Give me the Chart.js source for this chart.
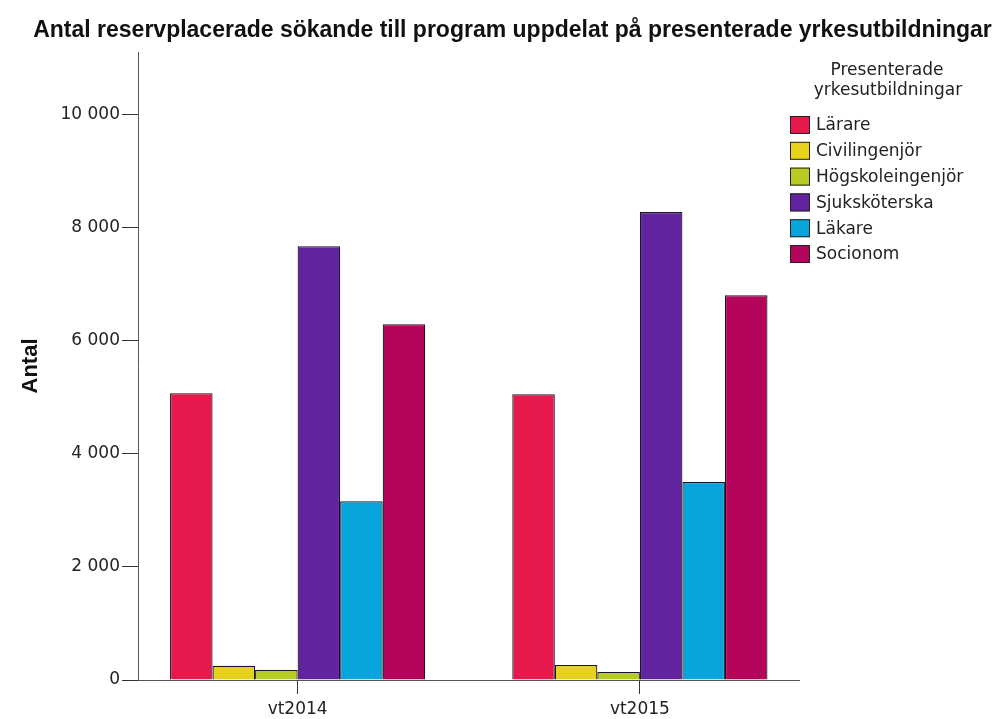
<!DOCTYPE html>
<html>
<head>
<meta charset="utf-8">
<script src="https://cdn.jsdelivr.net/npm/chart.js@4.4.1/dist/chart.umd.min.js"></script>
<style>
  html, body { margin: 0; padding: 0; background: #fff; }
  #wrap { width: 1001px; height: 719px; }
</style>
</head>
<body>
<div id="wrap"><canvas id="myChart" width="1001" height="719"></canvas></div>
<script>
// Data
const categories = ['vt2014', 'vt2015'];
const seriesNames = ['Lärare', 'Civilingenjör', 'Högskoleingenjör', 'Sjuksköterska', 'Läkare', 'Socionom'];
const larare = [5070, 5050];
const civilingenjor = [250, 265];
const hogskoleingenjor = [175, 140];
const sjukskoterska = [7665, 8270];
const lakare = [3160, 3500];
const socionom = [6290, 6800];
const yTicks = [0, 2000, 4000, 6000, 8000, 10000];

const seriesValues = [larare, civilingenjor, hogskoleingenjor, sjukskoterska, lakare, socionom];
const seriesColors = ['#e5194b', '#e6d21c', '#b6cc22', '#61249e', '#08a4dc', '#b4055b'];

const fmt = v => String(v).replace(/\B(?=(\d{3})+(?!\d))/g, ' ');

// legend drawn from the datasets, placed like the original
const sideLegend = {
    id: 'sideLegend',
    afterDraw(chart) {
        const ctx = chart.ctx;
        ctx.save();
        ctx.fillStyle = '#222';
        ctx.font = '17px "DejaVu Sans"';
        ctx.textAlign = 'center';
        ctx.textBaseline = 'middle';
        ctx.fillText('Presenterade', 887, 71);
        ctx.fillText('yrkesutbildningar', 888, 91);
        ctx.textAlign = 'left';
        chart.data.datasets.forEach((ds, i) => {
            const y = 125 + i * 25.8;
            ctx.fillStyle = ds.backgroundColor;
            ctx.fillRect(790, y - 9, 20, 18);
            ctx.strokeStyle = '#222';
            ctx.lineWidth = 1;
            ctx.strokeRect(790.5, y - 8.5, 19, 17);
            ctx.fillStyle = '#222';
            ctx.fillText(ds.label, 816, y + 1);
        });
        ctx.restore();
    }
};

const data = {
    datasets: seriesNames.map((name, i) => ({
        label: name,
        data: seriesValues[i].map((v, j) => ({ x: j, y: v })),
        backgroundColor: seriesColors[i],
        borderColor: '#1c1424',
        borderWidth: 1.2,
        barPercentage: 1,
        categoryPercentage: 0.7456
    }))
};

const config = {
    type: 'bar',
    data: data,
    options: {
        responsive: false,
        animation: false,
        layout: { padding: { left: 24, right: 0, top: 0, bottom: 0 } },
        plugins: {
            legend: { display: false },
            tooltip: { enabled: false },
            title: {
                display: true,
                text: 'Antal reservplacerade sökande till program uppdelat på presenterade yrkesutbildningar',
                color: '#111',
                font: { family: "'Liberation Sans', sans-serif", size: 23, weight: 'bold', lineHeight: 1.0 },
                padding: { top: 19, bottom: 10 }
            }
        },
        scales: {
            x: {
                type: 'linear',
                offset: false,
                min: -0.4664,
                max: 1.4649,
                afterBuildTicks: s => { s.ticks = categories.map((c, i) => ({ value: i })); },
                afterFit: s => { s.height = 39; },
                ticks: {
                    autoSkip: false,
                    maxRotation: 0,
                    padding: 5,
                    color: '#222',
                    font: { family: '"DejaVu Sans"', size: 17 },
                    callback: v => categories[v]
                },
                grid: { offset: false, drawOnChartArea: false, drawTicks: true, tickLength: 14, color: '#333' },
                border: { display: true, color: '#555' }
            },
            y: {
                min: 0,
                max: 11100,
                afterBuildTicks: s => { s.ticks = yTicks.map(v => ({ value: v })); },
                afterFit: s => { s.width = 114; },
                ticks: {
                    padding: 2,
                    color: '#222',
                    font: { family: '"DejaVu Sans"', size: 17 },
                    callback: v => fmt(v)
                },
                grid: { drawOnChartArea: false, drawTicks: true, tickLength: 16, color: '#333' },
                border: { display: true, color: '#555' },
                title: {
                    display: true,
                    text: 'Antal',
                    color: '#111',
                    font: { family: "'Liberation Sans', sans-serif", size: 22, weight: 'bold' },
                    padding: { top: -6, bottom: 0 }
                }
            },
            spacer: {
                type: 'linear',
                position: 'right',
                display: true,
                afterFit: s => { s.width = 202; },
                ticks: { display: false },
                grid: { display: false },
                border: { display: false }
            }
        }
    },
    plugins: [sideLegend]
};

const ctx = document.getElementById('myChart').getContext('2d');
const myChart = new Chart(ctx, config);
</script>
</body>
</html>
